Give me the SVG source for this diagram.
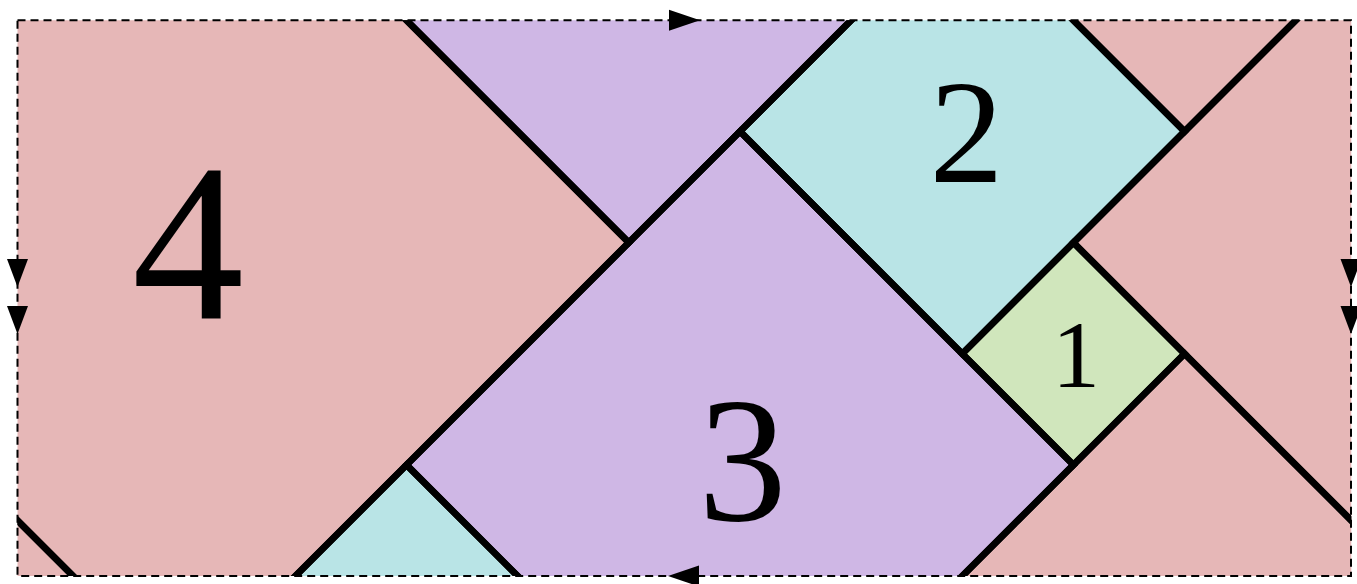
<svg xmlns="http://www.w3.org/2000/svg" xmlns:xlink="http://www.w3.org/1999/xlink" width="1357" height="584" viewBox="0 0 1357 584">
<style>
.sq4{fill:#E6B7B7}
.sq3{fill:#CFB7E5}
.sq2{fill:#B9E4E6}
.sq1{fill:#D0E6BC}
.edge{fill:none;stroke:#000;stroke-width:0.06;stroke-linejoin:miter}
.lbl{font-family:"Liberation Serif","Times New Roman",serif;text-anchor:middle;fill:#000}
.frame{fill:none;stroke:#000;stroke-width:2;stroke-dasharray:8,5}
.arr{fill:#000}
</style>
<defs>
<clipPath id="clip"><rect x="0" y="0" width="12" height="5"/></clipPath>
<polygon id="d4a" points="1.5,-2 5.5,2 1.5,6 -2.5,2"/>
<polygon id="d4b" points="13.5,-2 17.5,2 13.5,6 9.5,2"/>
<polygon id="d4c" points="10.5,3 14.5,7 10.5,11 6.5,7"/>
<polygon id="d4d" points="10.5,-7 14.5,-3 10.5,1 6.5,-3"/>
<polygon id="d4e" points="-1.5,3 2.5,7 -1.5,11 -5.5,7"/>
<polygon id="d3a" points="6.5,1 9.5,4 6.5,7 3.5,4"/>
<polygon id="d3b" points="5.5,-4 8.5,-1 5.5,2 2.5,-1"/>
<polygon id="d2a" points="8.5,-1 10.5,1 8.5,3 6.5,1"/>
<polygon id="d2b" points="3.5,4 5.5,6 3.5,8 1.5,6"/>
<polygon id="d1a" points="9.5,2 10.5,3 9.5,4 8.5,3"/>
<path id="arrR" d="M0,0 L-31,-10.5 L-31,10.5 Z"/>
<path id="arrD" d="M0,0 L-10.5,-28 L10.5,-28 Z"/>
</defs>
<g id="square4">
<g transform="translate(17.5,20.3) scale(111.15)" clip-path="url(#clip)">
<use xlink:href="#d4a" class="sq4"/><use xlink:href="#d4b" class="sq4"/><use xlink:href="#d4c" class="sq4"/><use xlink:href="#d4d" class="sq4"/><use xlink:href="#d4e" class="sq4"/>
</g>
<text class="lbl" x="188" y="318" font-size="224">4</text>
</g>
<g id="square3">
<g transform="translate(17.5,20.3) scale(111.15)" clip-path="url(#clip)">
<use xlink:href="#d3a" class="sq3"/><use xlink:href="#d3b" class="sq3"/>
</g>
<text class="lbl" x="742.5" y="519.5" font-size="177">3</text>
</g>
<g id="square2">
<g transform="translate(17.5,20.3) scale(111.15)" clip-path="url(#clip)">
<use xlink:href="#d2a" class="sq2"/><use xlink:href="#d2b" class="sq2"/>
</g>
<text class="lbl" x="966.5" y="182" font-size="148">2</text>
</g>
<g id="square1">
<g transform="translate(17.5,20.3) scale(111.15)" clip-path="url(#clip)">
<use xlink:href="#d1a" class="sq1"/>
</g>
<text class="lbl" x="1076" y="387" font-size="96">1</text>
</g>
<g id="edges">
<g transform="translate(17.5,20.3) scale(111.15)" clip-path="url(#clip)">
<use xlink:href="#d4a" class="edge"/><use xlink:href="#d4b" class="edge"/><use xlink:href="#d4c" class="edge"/><use xlink:href="#d4d" class="edge"/><use xlink:href="#d4e" class="edge"/>
<use xlink:href="#d3a" class="edge"/><use xlink:href="#d3b" class="edge"/>
<use xlink:href="#d2a" class="edge"/><use xlink:href="#d2b" class="edge"/>
<use xlink:href="#d1a" class="edge"/>
</g>
</g>
<g id="boundary">
<rect class="frame" x="17.5" y="20.3" width="1333.5" height="555.7"/>
<use xlink:href="#arrR" class="arr" transform="translate(700,20.3)"/>
<use xlink:href="#arrR" class="arr" transform="translate(668,576) rotate(180)"/>
<use xlink:href="#arrD" class="arr" transform="translate(17.5,287)"/>
<use xlink:href="#arrD" class="arr" transform="translate(17.5,334)"/>
<use xlink:href="#arrD" class="arr" transform="translate(1351,287)"/>
<use xlink:href="#arrD" class="arr" transform="translate(1351,334)"/>
</g>
</svg>
